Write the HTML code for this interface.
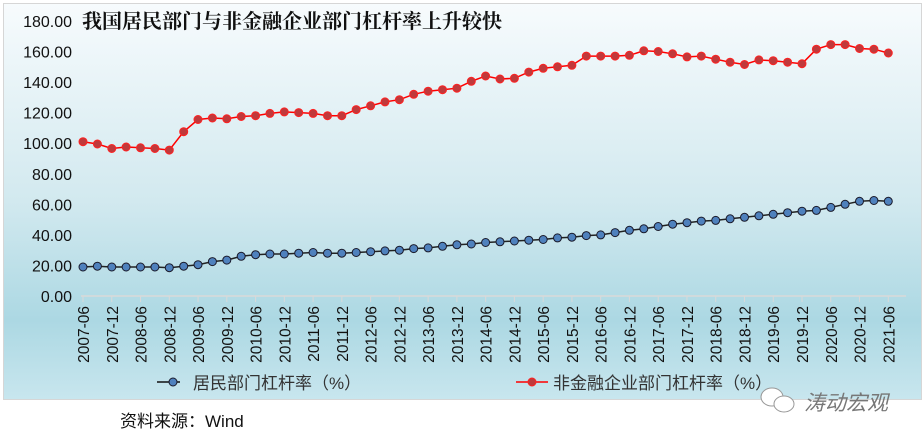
<!DOCTYPE html>
<html><head><meta charset="utf-8"><style>
body{margin:0;width:924px;height:442px;background:#fff;overflow:hidden}
svg{display:block}
text{font-family:"Liberation Sans","Noto Sans CJK SC",sans-serif}
text.t{font-family:"Liberation Serif","Noto Serif CJK SC",serif}
</style></head><body>
<svg id="s" width="924" height="442" xmlns="http://www.w3.org/2000/svg">
<defs><linearGradient id="g" x1="0" y1="0" x2="0" y2="1">
<stop offset="0" stop-color="#f7fbfd"/><stop offset="0.5" stop-color="#d2e9ef"/><stop offset="0.8" stop-color="#acd8e3"/><stop offset="1" stop-color="#c8e6ee"/></linearGradient></defs>
<rect x="3.5" y="3.5" width="918" height="396" fill="url(#g)" stroke="#d6d6d6"/>
<text class="t" x="82" y="28" font-weight="bold" font-size="20" fill="#111">我国居民部门与非金融企业部门杠杆率上升较快</text>
<g id="ax"></g>
<line x1="81" y1="296" x2="906" y2="296" stroke="#d9d9d9" stroke-width="1.5"/>
<g id="lines"></g>
<line x1="157" y1="382" x2="180" y2="382" stroke="#111" stroke-width="1.5"/><circle cx="173" cy="382" r="4" fill="#4f81bd" stroke="#1a1a2a"/>
<text x="193" y="389" font-size="17" fill="#333">居民部门杠杆率（%）</text>
<line x1="516" y1="382" x2="548" y2="382" stroke="#f00" stroke-width="1.5"/><circle cx="532" cy="382" r="4" fill="#c0393b" stroke="#f22"/>
<text x="553" y="389" font-size="17" fill="#333">非金融企业部门杠杆率（%）</text>
<text x="120" y="427" font-size="17" fill="#111">资料来源：Wind</text>
<g fill="#fff" stroke="#999"><ellipse cx="772" cy="397" rx="11" ry="9"/><ellipse cx="784" cy="404" rx="10" ry="8"/></g>
<text x="804" y="410" font-size="21" fill="#777" font-style="italic">涛动宏观</text>
</svg>
<script>
var red=[101,99.5,96.5,97.5,97,96.5,95.5,107.5,115.5,116.5,116,117.5,118,119.5,120.5,120,119.5,118,118,122,124.5,127,128.5,132,134,135,136,140.5,144,142,142.5,146.5,149,150,151,157,157,157,157.5,160.5,160,158.5,156.5,157,155,153,151.5,154.5,154,153,152,161.5,164.5,164.5,162,161.5,159];
var blue=[19,19.5,19,19,19,19,18.5,19.5,20.5,22.5,23.5,26,27,27.5,27.5,28,28.5,28,28,28.5,29,29.5,30,31,31.5,32.5,33.5,34,35,35.5,36,36.5,37,38,38.5,39.5,40,41.5,43,44,45.5,47,48,49,49.5,50.5,51.5,52.5,53.5,54.5,55.5,56,58,60,62,62.5,62];
function X(i){return 83+14.38*i}function Y(v){return 296-v*1.528}
var h='';
for(var k=0;k<=9;k++){var v=k*20;h+='<text x="72" y="'+(Y(v)+6)+'" font-size="16" text-anchor="end" fill="#111">'+v.toFixed(2)+'</text>';}
for(var i=0;i<57;i+=2){var x=X(i);h+='<line x1="'+x+'" y1="296" x2="'+x+'" y2="302" stroke="#d9d9d9"/>';
var q=i/2, yr=2007+Math.floor(q/2), m=q%2==0?'06':'12';
h+='<text transform="translate('+(x+6)+',306) rotate(-90)" font-size="15.5" text-anchor="end" fill="#111">'+yr+'-'+m+'</text>';}
document.getElementById('ax').innerHTML=h;
var l='';
function ser(d,lc,fc,sc){var p=d.map(function(v,i){return X(i).toFixed(1)+','+Y(v).toFixed(1)}).join(' ');
l+='<polyline points="'+p+'" fill="none" stroke="'+lc+'" stroke-width="1.5"/>';
d.forEach(function(v,i){l+='<circle cx="'+X(i).toFixed(1)+'" cy="'+Y(v).toFixed(1)+'" r="4" fill="'+fc+'" stroke="'+sc+'" stroke-width="1"/>';});}
ser(blue,'#222','#4f81bd','#1a1a2a');ser(red,'#f00','#c0393b','#f22');
document.getElementById('lines').innerHTML=l;
</script>
</body></html>
